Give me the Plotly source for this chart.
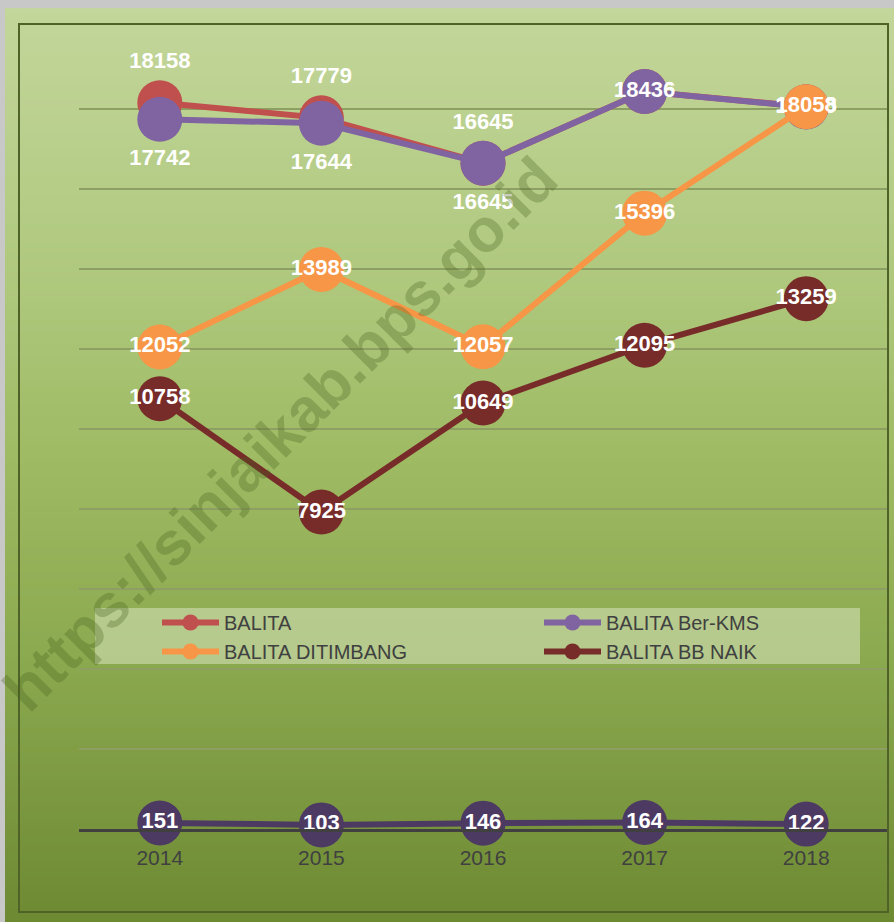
import plotly.graph_objects as go

# ---------------- data ----------------
years = ["2014", "2015", "2016", "2017", "2018"]
balita = [18158, 17779, 16645, 18436, 18058]
balita_kms = [17742, 17644, 16645, 18436, 18050]
balita_ditimbang = [12052, 13989, 12057, 15396, 18058]
balita_bb_naik = [10758, 7925, 10649, 12095, 13259]
balita_bgm = [151, 103, 146, 164, 122]

W, H = 894, 922
ML, MR, MT, MB = 79, 7, 29, 93
PW, PH = W - ML - MR, H - MT - MB


def px_x(x):
    return (x - ML) / PW


def px_y(y):
    return (H - MB - y) / PH


LABEL_FONT = dict(family="Liberation Sans, Arial, sans-serif", size=22, color="white", weight="bold")

fig = go.Figure()


def add_series(name, values, color, positions, legend, showlegend=True):
    fig.add_trace(go.Scatter(
        x=years, y=values, name=name, mode="lines+markers+text",
        line=dict(color=color, width=6),
        marker=dict(color=color, size=45),
        text=[str(v) for v in values], textposition=positions,
        textfont=LABEL_FONT, cliponaxis=False,
        legend=legend, showlegend=showlegend,
    ))


add_series("BALITA", balita, "#c0504d",
           ["top center", "top center", "top center", "middle center", "middle center"], "legend")
add_series("BALITA Ber-KMS", balita_kms, "#8064a2",
           ["bottom center", "bottom center", "bottom center", "middle center", "middle center"], "legend2")
add_series("BALITA DITIMBANG", balita_ditimbang, "#f79646", "middle center", "legend")
add_series("BALITA BB NAIK", balita_bb_naik, "#772c2a", "middle center", "legend2")
add_series("BALITA BGM", balita_bgm, "#4d3a63", "middle center", "legend", showlegend=False)

# ---------------- background gradient ----------------
def hex2rgb(h):
    h = h.lstrip("#")
    return [int(h[i:i + 2], 16) for i in (0, 2, 4)]


stops = [(8, "#c3d69b"), (300, "#adc77b"), (450, "#9fbb64"), (650, "#8caa50"), (922, "#6d8a33")]


def color_at(y):
    for (y0, c0), (y1, c1) in zip(stops[:-1], stops[1:]):
        if y0 <= y <= y1:
            t = (y - y0) / (y1 - y0)
            a, b = hex2rgb(c0), hex2rgb(c1)
            return "rgb(%d,%d,%d)" % tuple(round(a[i] + (b[i] - a[i]) * t) for i in range(3))
    return stops[-1][1]


shapes = []
step = 6
y = 8
while y < H:
    y2 = min(y + step, H)
    shapes.append(dict(type="rect", xref="paper", yref="paper", layer="below",
                       x0=px_x(5), x1=px_x(W), y0=px_y(y2 + 0.5), y1=px_y(y),
                       fillcolor=color_at((y + y2) / 2), line=dict(width=0)))
    y = y2

# inner frame
shapes.append(dict(type="rect", xref="paper", yref="paper", layer="below",
                   x0=px_x(19), x1=px_x(888), y0=px_y(912), y1=px_y(24),
                   fillcolor="rgba(0,0,0,0)", line=dict(color="#4f6228", width=2)))
# legend background box
shapes.append(dict(type="rect", xref="paper", yref="paper", layer="below",
                   x0=px_x(95), x1=px_x(860), y0=px_y(664), y1=px_y(608),
                   fillcolor="rgba(215,228,190,0.55)", line=dict(width=0)))

legend_common = dict(orientation="v", bgcolor="rgba(0,0,0,0)",
                     font=dict(family="Liberation Sans, Arial, sans-serif", size=20, color="#404040"),
                     xanchor="left", yanchor="top", tracegroupgap=0, itemsizing="trace",
                     itemwidth=57)

fig.update_layout(
    width=W, height=H,
    margin=dict(l=ML, r=MR, t=MT, b=MB),
    paper_bgcolor="#c8c8c8",
    plot_bgcolor="rgba(0,0,0,0)",
    shapes=shapes,
    showlegend=True,
    legend=dict(x=px_x(157), y=px_y(603), **legend_common),
    legend2=dict(x=px_x(539), y=px_y(603), **legend_common),
    xaxis=dict(type="category", range=[-0.5, 4.5], showgrid=False, zeroline=False,
               showline=True, linecolor="#404040", linewidth=3,
               ticks="outside", ticklen=8, tickcolor="rgba(0,0,0,0)",
               tickfont=dict(family="Liberation Sans, Arial, sans-serif", size=21, color="#404040"),
               fixedrange=True),
    yaxis=dict(range=[0, 20000], dtick=2000, showgrid=True, gridcolor="#8e9f63", gridwidth=2,
               zeroline=False, showticklabels=False, showline=False, ticks="", fixedrange=True),
    annotations=[dict(
        text="https://sinjaikab.bps.go.id", xref="paper", yref="paper",
        x=px_x(280), y=px_y(434), showarrow=False, textangle=-45,
        font=dict(family="Liberation Sans, Arial, sans-serif", size=61, color="rgba(70,95,30,0.30)", weight="bold"),
        xanchor="center", yanchor="middle",
    )],
)

fig.write_html(
    "out.html",
    config={"displayModeBar": False},
    post_script="document.body.style.margin='0px';document.body.style.padding='0px';"
                "document.body.style.overflow='hidden';",
)
